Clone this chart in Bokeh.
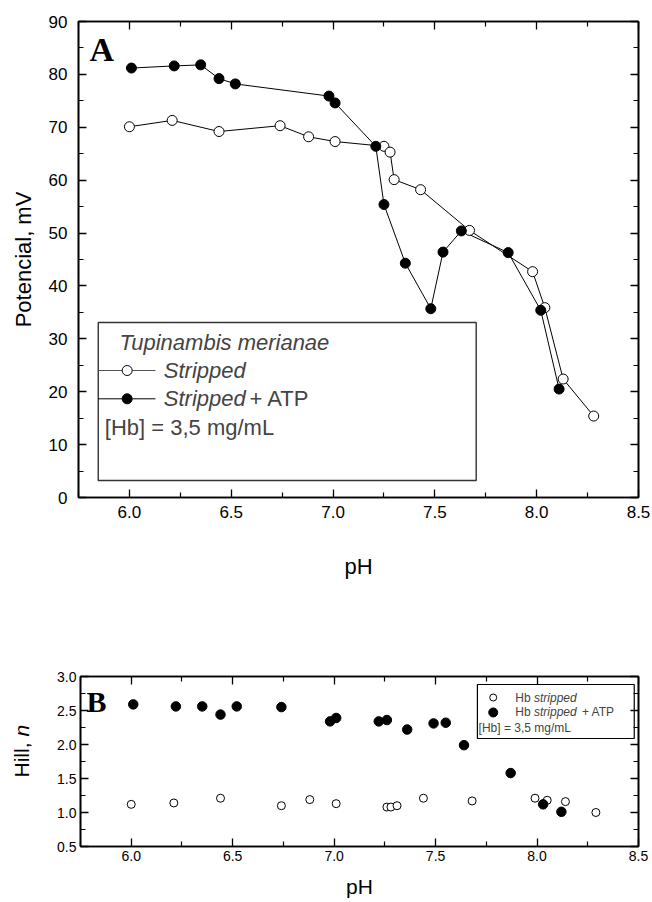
from bokeh.plotting import figure
from bokeh.models import (Range1d, LinearAxis, Label, FixedTicker,
                          CustomJSTickFormatter, NumeralTickFormatter)
from bokeh.layouts import column, row
from bokeh.embed import file_html
from bokeh.resources import INLINE

# ---------------- data ----------------
# Panel A: potential (mV) vs pH
ph_a_stripped = [6.00, 6.21, 6.44, 6.74, 6.88, 7.01, 7.25, 7.28, 7.30, 7.43, 7.67, 7.98, 8.04, 8.13, 8.28]
mv_a_stripped = [70.1, 71.3, 69.2, 70.3, 68.2, 67.3, 66.4, 65.3, 60.1, 58.2, 50.5, 42.7, 35.9, 22.4, 15.4]
ph_a_atp = [6.01, 6.22, 6.35, 6.44, 6.52, 6.98, 7.01, 7.21, 7.25, 7.355, 7.48, 7.54, 7.63, 7.86, 8.02, 8.11]
mv_a_atp = [81.2, 81.6, 81.8, 79.2, 78.2, 75.9, 74.6, 66.4, 55.4, 44.3, 35.7, 46.4, 50.4, 46.3, 35.4, 20.5]

# Panel B: Hill n vs pH
ph_b_stripped = [6.00, 6.21, 6.44, 6.74, 6.88, 7.01, 7.26, 7.28, 7.31, 7.44, 7.68, 7.99, 8.05, 8.14, 8.29]
hill_stripped = [1.12, 1.14, 1.21, 1.10, 1.19, 1.13, 1.08, 1.08, 1.10, 1.21, 1.17, 1.21, 1.18, 1.16, 1.00]
ph_b_atp = [6.01, 6.22, 6.35, 6.44, 6.52, 6.74, 6.98, 7.01, 7.22, 7.26, 7.36, 7.49, 7.55, 7.64, 7.87, 8.03, 8.12]
hill_atp = [2.59, 2.56, 2.56, 2.44, 2.56, 2.55, 2.34, 2.39, 2.34, 2.36, 2.22, 2.31, 2.32, 1.99, 1.58, 1.12, 1.01]

x_ticks = [6.0, 6.5, 7.0, 7.5, 8.0, 8.5]
x_minor = [5.75, 6.25, 6.75, 7.25, 7.75, 8.25]
ya_ticks = [0, 10, 20, 30, 40, 50, 60, 70, 80, 90]
ya_minor = [5, 15, 25, 35, 45, 55, 65, 75, 85]
yb_ticks = [0.5, 1.0, 1.5, 2.0, 2.5, 3.0]
yb_minor = [0.75, 1.25, 1.75, 2.25, 2.75]

SANS = "Liberation Sans"
SERIF = "Liberation Serif"


def style_axis(ax, ticks, minor, font_size, standoff, fmt=None, hide_labels=False):
    ax.ticker = FixedTicker(ticks=ticks, minor_ticks=minor)
    ax.axis_line_color = "black"
    ax.axis_line_width = 1.6
    ax.major_tick_in = 8
    ax.major_tick_out = 0
    ax.minor_tick_in = 5
    ax.minor_tick_out = 0
    ax.major_tick_line_color = "black"
    ax.minor_tick_line_color = "black"
    ax.major_tick_line_width = 1.3
    ax.minor_tick_line_width = 1.2
    ax.major_label_text_font = SANS
    ax.major_label_text_font_size = font_size
    ax.major_label_text_color = "black"
    ax.major_label_standoff = standoff
    if fmt is not None:
        ax.formatter = NumeralTickFormatter(format=fmt)
    if hide_labels:
        ax.formatter = CustomJSTickFormatter(code="return ''")


def frame_axes(p, y_ticks, y_minor):
    top = LinearAxis()
    style_axis(top, x_ticks, x_minor, "1px", 0, hide_labels=True)
    p.add_layout(top, "above")
    right = LinearAxis()
    style_axis(right, y_ticks, y_minor, "1px", 0, hide_labels=True)
    p.add_layout(right, "right")


# ---------------- Panel A ----------------
pa = figure(width=652, height=590, output_backend="svg", toolbar_location=None,
            x_range=Range1d(5.75, 8.5), y_range=Range1d(0, 90),
            min_border_left=78, min_border_right=14, min_border_top=21, min_border_bottom=93)
pa.grid.visible = False
pa.outline_line_color = "black"
pa.outline_line_width = 1.6
pa.background_fill_color = "white"
pa.border_fill_color = "white"

style_axis(pa.xaxis[0], x_ticks, x_minor, "17px", 8, fmt="0.0")
style_axis(pa.yaxis[0], ya_ticks, ya_minor, "17px", 11)
pa.xaxis[0].axis_label = "pH"
pa.yaxis[0].axis_label = "Potencial, mV"
for ax, st in ((pa.xaxis[0], 33), (pa.yaxis[0], 10)):
    ax.axis_label_text_font = SANS
    ax.axis_label_text_font_size = "22px"
    ax.axis_label_text_font_style = "normal"
    ax.axis_label_text_color = "black"
    ax.axis_label_standoff = st
frame_axes(pa, ya_ticks, ya_minor)

pa.line(ph_a_stripped, mv_a_stripped, line_color="black", line_width=1)
pa.line(ph_a_atp, mv_a_atp, line_color="black", line_width=1)
pa.scatter(ph_a_stripped, mv_a_stripped, marker="circle", size=10,
           fill_color="white", line_color="black", line_width=1)
pa.scatter(ph_a_atp, mv_a_atp, marker="circle", size=10,
           fill_color="black", line_color="black", line_width=1)

pa.add_layout(Label(x=5.804, y=84.8, text="A", text_font=SERIF, text_font_style="bold",
                    text_font_size="34px", text_baseline="middle", text_color="black"))

# legend A (drawn by hand, glyph level so samples stay on top)
pa.quad(left=[5.847], right=[7.703], bottom=[3.21], top=[33.09],
        fill_color="white", line_color="#333333", line_width=1.4)
leg_rows_a = [29.36, 24.01, 18.66, 13.29]
pa.add_layout(Label(x=5.951, y=leg_rows_a[0], text="Tupinambis merianae", text_font=SANS,
                    text_font_style="italic", text_font_size="22px", text_baseline="middle"))
pa.line([5.847, 6.128], [leg_rows_a[1]] * 2, line_color="#555555", line_width=1)
pa.scatter([5.989], [leg_rows_a[1]], marker="circle", size=10, fill_color="white",
           line_color="black", line_width=1)
pa.add_layout(Label(x=6.169, y=leg_rows_a[1], text="Stripped", text_font=SANS,
                    text_font_style="italic", text_font_size="22px", text_baseline="middle"))
pa.line([5.847, 6.128], [leg_rows_a[2]] * 2, line_color="black", line_width=1)
pa.scatter([5.989], [leg_rows_a[2]], marker="circle", size=10, fill_color="black",
           line_color="black", line_width=1)
pa.add_layout(Label(x=6.169, y=leg_rows_a[2], text="Stripped", text_font=SANS,
                    text_font_style="italic", text_font_size="22px", text_baseline="middle"))
pa.add_layout(Label(x=6.590, y=leg_rows_a[2], text="+ ATP", text_font=SANS,
                    text_font_style="normal", text_font_size="22px", text_baseline="middle"))
pa.add_layout(Label(x=5.879, y=leg_rows_a[3], text="[Hb] = 3,5 mg/mL", text_font=SANS,
                    text_font_style="normal", text_font_size="22px", text_baseline="middle"))

# ---------------- Panel B ----------------
pb = figure(width=612, height=312, output_backend="svg", toolbar_location=None,
            x_range=Range1d(5.75, 8.5), y_range=Range1d(0.5, 3.0),
            min_border_left=40, min_border_right=14, min_border_top=86, min_border_bottom=56)
pb.grid.visible = False
pb.outline_line_color = "black"
pb.outline_line_width = 1.6
pb.background_fill_color = "white"
pb.border_fill_color = "white"

style_axis(pb.xaxis[0], x_ticks, x_minor, "14px", 4, fmt="0.0")
style_axis(pb.yaxis[0], yb_ticks, yb_minor, "14px", 4, fmt="0.0")
pb.xaxis[0].axis_label = "pH"
pb.xaxis[0].axis_label_text_font = SANS
pb.xaxis[0].axis_label_text_font_size = "21px"
pb.xaxis[0].axis_label_text_font_style = "normal"
pb.xaxis[0].axis_label_text_color = "black"
pb.xaxis[0].axis_label_standoff = 11
frame_axes(pb, yb_ticks, yb_minor)

pb.scatter(ph_b_stripped, hill_stripped, marker="circle", size=8,
           fill_color="white", line_color="black", line_width=1)
pb.scatter(ph_b_atp, hill_atp, marker="circle", size=9.5,
           fill_color="black", line_color="black", line_width=1)

pb.add_layout(Label(x=5.78, y=2.63, text="B", text_font=SERIF, text_font_style="bold",
                    text_font_size="30px", text_baseline="middle", text_color="black"))

# legend B
pb.quad(left=[7.706], right=[8.479], bottom=[2.088], top=[2.882],
        fill_color="white", line_color="black", line_width=1.2)
leg_rows_b = [2.691, 2.471, 2.25]
pb.scatter([7.784], [leg_rows_b[0]], marker="circle", size=7, fill_color="white",
           line_color="black", line_width=1)
pb.scatter([7.784], [leg_rows_b[1]], marker="circle", size=9, fill_color="black",
           line_color="black", line_width=1)
for r in (0, 1):
    pb.add_layout(Label(x=7.893, y=leg_rows_b[r], text="Hb", text_font=SANS,
                        text_font_size="12px", text_baseline="middle"))
    pb.add_layout(Label(x=7.985, y=leg_rows_b[r], text="stripped", text_font=SANS,
                        text_font_style="italic", text_font_size="12px", text_baseline="middle"))
pb.add_layout(Label(x=8.221, y=leg_rows_b[1], text="+ ATP", text_font=SANS,
                    text_font_size="12px", text_baseline="middle"))
pb.add_layout(Label(x=7.712, y=leg_rows_b[2], text="[Hb] = 3,5 mg/mL", text_font=SANS,
                    text_font_size="12px", text_baseline="middle"))

# narrow strip holding the y-axis title "Hill, n" (italic n); its frame lines up with panel B
pl = figure(width=40, height=312, output_backend="svg", toolbar_location=None,
            x_range=Range1d(0, 40), y_range=Range1d(0.5, 3.0),
            x_axis_type=None, y_axis_type=None,
            min_border_left=0, min_border_right=0, min_border_top=86, min_border_bottom=56)
pl.grid.visible = False
pl.outline_line_color = None
pl.border_fill_color = "white"
pl.add_layout(Label(x=21, y=1.515, text="Hill,", angle=1.5708, text_font=SANS,
                    text_font_size="21px", text_baseline="middle", text_align="left",
                    text_color="black"))
pl.add_layout(Label(x=21, y=2.118, text="n", angle=1.5708, text_font=SANS,
                    text_font_style="italic", text_font_size="21px", text_baseline="middle",
                    text_align="left", text_color="black"))

layout = column(pa, row(pl, pb, spacing=0), spacing=0)
open("out.html", "w").write(file_html(layout, INLINE))
